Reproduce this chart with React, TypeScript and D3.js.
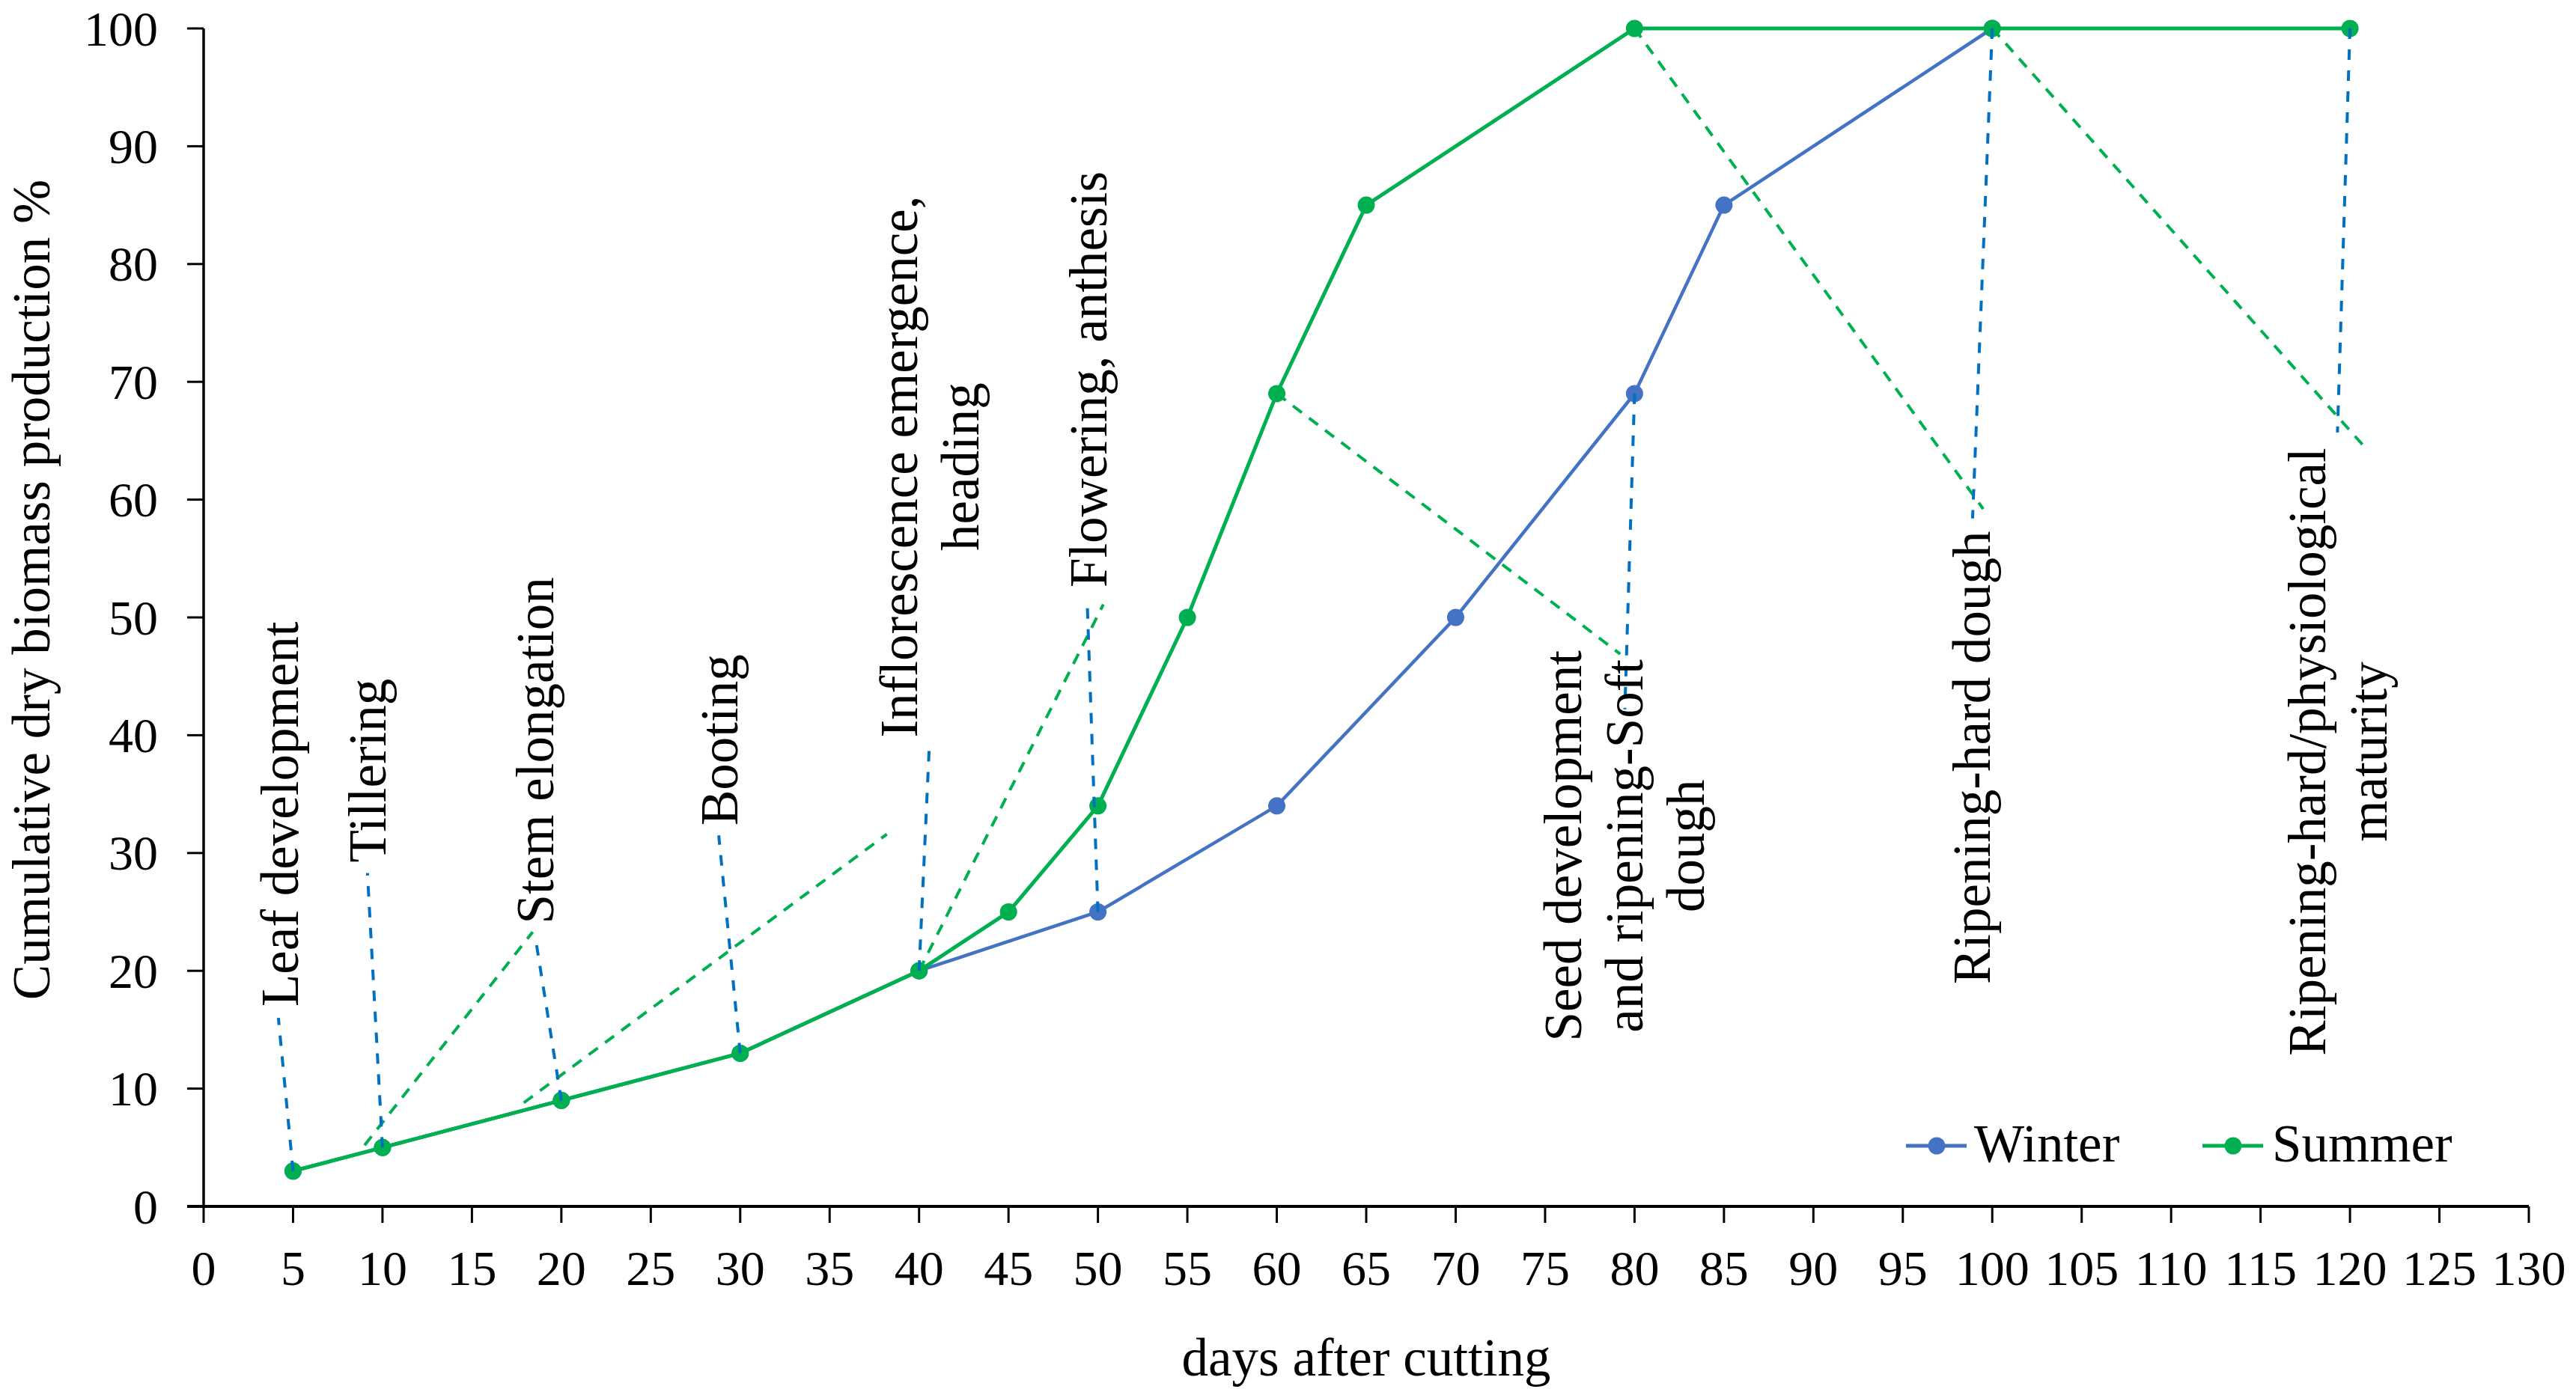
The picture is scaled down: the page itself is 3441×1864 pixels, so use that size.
import React from "react";
import * as d3 from "d3";

// ---- data ----
const winterDays = [5, 10, 20, 30, 40, 50, 60, 70, 80, 85, 100];
const winterValues = [3, 5, 9, 13, 20, 25, 34, 50, 69, 85, 100];
const summerDays = [5, 10, 20, 30, 40, 45, 50, 55, 60, 65, 80, 100, 120];
const summerValues = [3, 5, 9, 13, 20, 25, 34, 50, 69, 85, 100, 100, 100];
const xTicks = d3.range(0, 131, 5);
const yTicks = d3.range(0, 101, 10);

// stage labels (data units: first baseline x, centre y)
const stageLabels = [
  { lines: ["Leaf development"], x: 5.27, y: 33.3 },
  { lines: ["Tillering"], x: 10.17, y: 37.0 },
  { lines: ["Stem elongation"], x: 19.54, y: 38.7 },
  { lines: ["Booting"], x: 29.83, y: 39.6 },
  { lines: ["Inflorescence emergence,", "heading"], x: 39.87, y: 62.8 },
  { lines: ["Flowering, anthesis"], x: 50.46, y: 70.2 },
  { lines: ["Seed development", "and ripening-Soft", "dough"], x: 77.03, y: 30.6 },
  { lines: ["Ripening-hard dough"], x: 99.87, y: 38.1 },
  { lines: ["Ripening-hard/physiological", "maturity"], x: 118.6, y: 38.6 },
];

// leader lines (data units) [x1, y1, x2, y2]
const winterLeaders = [
  [5, 3, 4.18, 16.0],
  [10, 5, 9.16, 28.3],
  [20, 9, 18.54, 22.9],
  [30, 13, 28.8, 31.5],
  [40, 20, 40.56, 38.7],
  [50, 25, 49.4, 51.3],
  [80, 69, 79.46, 42.2],
  [100, 100, 98.9, 58.4],
  [120, 100, 119.3, 65.7],
];
const summerLeaders = [
  [9.0, 5.2, 18.4, 23.3],
  [17.9, 8.8, 38.2, 31.6],
  [40, 20, 50.3, 51.1],
  [60, 69, 79.2, 46.9],
  [80, 100, 99.5, 59.2],
  [100, 100, 120.8, 64.5],
];

const W = 3441;
const H = 1864;
const FONT = '"Liberation Serif", "Times New Roman", Times, "DejaVu Serif", serif';
const GREEN = "#00B050";
const BLUE = "#4472C4";
const LEADER_BLUE = "#0070C0";
const txt = { fontFamily: FONT, fill: "#000" } as React.CSSProperties;

export default function App() {
  const x = d3.scaleLinear().domain([0, 130]).range([272, 3378]);
  const y = d3.scaleLinear().domain([0, 100]).range([1612, 38]);
  const line = d3
    .line<[number, number]>()
    .x((d) => x(d[0]))
    .y((d) => y(d[1]));
  const winter = winterDays.map((d, i) => [d, winterValues[i]] as [number, number]);
  const summer = summerDays.map((d, i) => [d, summerValues[i]] as [number, number]);
  const lineH = 82;

  return (
    <svg
      width={W}
      height={H}
      style={{ position: "absolute", left: 0, top: 0, background: "#fff", fontFamily: FONT }}
    >
      <rect x={0} y={0} width={W} height={H} fill="#fff" />

      {/* axes */}
      <line x1={x(0)} x2={x(0)} y1={y(100)} y2={y(0)} stroke="#000" strokeWidth={3.5} />
      <line x1={x(0) - 22} x2={x(130)} y1={y(0)} y2={y(0)} stroke="#000" strokeWidth={4} />
      {yTicks.map((t) => (
        <g key={"y" + t}>
          <line x1={x(0) - 22} x2={x(0)} y1={y(t)} y2={y(t)} stroke="#000" strokeWidth={3} />
          <text
            x={211}
            y={y(t)}
            textAnchor="end"
            dominantBaseline="central"
            fontSize={66}
            style={txt}
          >
            {t}
          </text>
        </g>
      ))}
      {xTicks.map((t) => (
        <g key={"x" + t}>
          <line x1={x(t)} x2={x(t)} y1={y(0)} y2={y(0) + 22} stroke="#000" strokeWidth={3} />
          <text x={x(t)} y={1717} textAnchor="middle" fontSize={66} style={txt}>
            {t}
          </text>
        </g>
      ))}

      {/* axis titles */}
      <text x={1825} y={1838} textAnchor="middle" fontSize={71} style={txt}>
        days after cutting
      </text>
      <text
        transform={`translate(66, 788) rotate(-90)`}
        textAnchor="middle"
        fontSize={71}
        style={txt}
      >
        Cumulative dry biomass production %
      </text>

      {/* series */}
      <path d={line(winter) || ""} fill="none" stroke={BLUE} strokeWidth={4.5} />
      {winter.map((d, i) => (
        <circle key={"w" + i} cx={x(d[0])} cy={y(d[1])} r={11.5} fill={BLUE} />
      ))}
      <path d={line(summer) || ""} fill="none" stroke={GREEN} strokeWidth={5} />
      {summer.map((d, i) => (
        <circle key={"s" + i} cx={x(d[0])} cy={y(d[1])} r={11.5} fill={GREEN} />
      ))}

      {/* leader lines */}
      {summerLeaders.map((l, i) => (
        <line
          key={"sl" + i}
          x1={x(l[0])}
          y1={y(l[1])}
          x2={x(l[2])}
          y2={y(l[3])}
          stroke={GREEN}
          strokeWidth={4}
          strokeDasharray="15 12"
        />
      ))}
      {winterLeaders.map((l, i) => (
        <line
          key={"wl" + i}
          x1={x(l[0])}
          y1={y(l[1])}
          x2={x(l[2])}
          y2={y(l[3])}
          stroke={LEADER_BLUE}
          strokeWidth={4}
          strokeDasharray="14 14"
        />
      ))}

      {/* stage labels */}
      {stageLabels.map((s, i) => (
        <text
          key={"lab" + i}
          transform={`translate(${x(s.x)}, ${y(s.y)}) rotate(-90)`}
          textAnchor="middle"
          fontSize={71}
          style={txt}
        >
          {s.lines.map((ln, j) => (
            <tspan key={j} x={0} y={j * lineH}>
              {ln}
            </tspan>
          ))}
        </text>
      ))}

      {/* legend */}
      <g>
        <line x1={2546} x2={2627} y1={1531} y2={1531} stroke={BLUE} strokeWidth={5} />
        <circle cx={2587} cy={1531} r={11.5} fill={BLUE} />
        <text x={2637} y={1552} fontSize={71} style={txt}>
          Winter
        </text>
        <line x1={2942} x2={3023} y1={1531} y2={1531} stroke={GREEN} strokeWidth={5} />
        <circle cx={2983} cy={1531} r={11.5} fill={GREEN} />
        <text x={3035} y={1552} fontSize={71} style={txt}>
          Summer
        </text>
      </g>
    </svg>
  );
}
